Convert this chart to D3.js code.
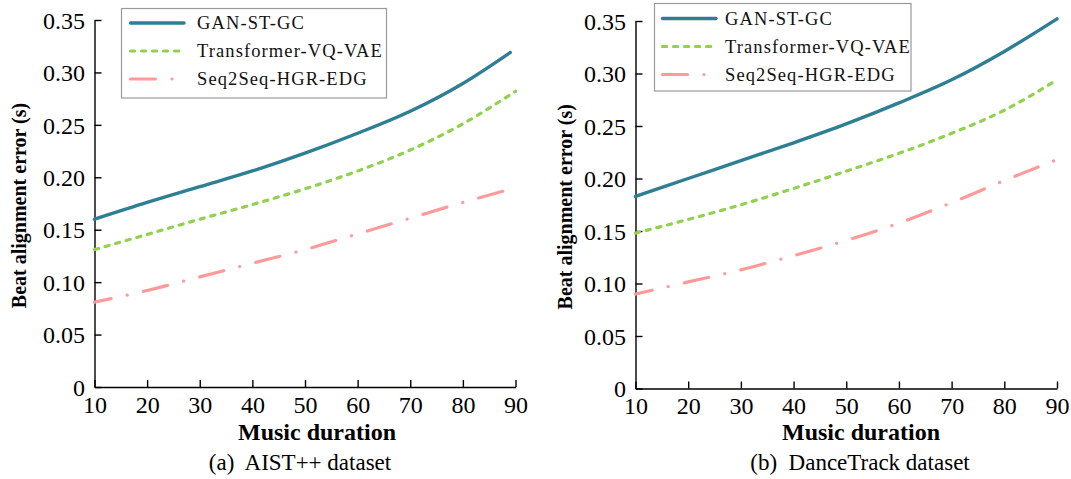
<!DOCTYPE html>
<html>
<head>
<meta charset="utf-8">
<script src="https://cdn.jsdelivr.net/npm/d3@7"></script>
<style>
  html, body { margin: 0; padding: 0; background: #fff; }
  svg { display: block; }
  svg text { font-family: "Liberation Serif", "Times New Roman", Times, serif; }
</style>
</head>
<body>
<svg id="fig" width="1071" height="479"></svg>
<script>
// Music duration (x) and beat alignment error (s) per method
const durations = [10, 20, 30, 40, 50, 60, 70, 80, 90];
const aistGanDurations = [10, 20, 30, 40, 50, 60, 70, 80, 89];

const aistGan         = [0.160, 0.176, 0.191, 0.206, 0.223, 0.242, 0.263, 0.2895, 0.319];
const aistTransformer = [0.131, 0.1455, 0.160, 0.174, 0.189, 0.206, 0.226, 0.251, 0.282];
const aistSeq2Seq     = [0.081, 0.092, 0.105, 0.118, 0.131, 0.146, 0.161, 0.176, 0.190];

const danceGan         = [0.183, 0.200, 0.217, 0.234, 0.252, 0.272, 0.294, 0.321, 0.352];
const danceTransformer = [0.148, 0.161, 0.175, 0.1905, 0.207, 0.224, 0.243, 0.265, 0.294];
const danceSeq2Seq     = [0.090, 0.1015, 0.113, 0.1265, 0.141, 0.1575, 0.177, 0.198, 0.218];

const seriesNames = ["GAN-ST-GC", "Transformer-VQ-VAE", "Seq2Seq-HGR-EDG"];
const xTicks = [10, 20, 30, 40, 50, 60, 70, 80, 90];
const yTicks = [0, 0.05, 0.10, 0.15, 0.20, 0.25, 0.30, 0.35];
const captions = ["(a)\u00a0 AIST++ dataset", "(b)\u00a0 DanceTrack dataset"];

// line styles per method
const styles = [
  { color: "#2e7f93", width: 3.4, dash: null, cap: "round" },
  { color: "#92d050", width: 3.2, dash: "4.2,6.8", cap: "round" },
  { color: "#ff9a9a", width: 3.2, dash: "25,16.5,0.01,16.5", cap: "round", offset: 8 }
];

const panels = [
  {
    series: [
      { xs: aistGanDurations, ys: aistGan },
      { xs: durations, ys: aistTransformer },
      { xs: durations, ys: aistSeq2Seq }
    ],
    x0: 94.5, x1: 515.5, yb: 387, yt: 20,
    legend: { x: 121.5, y: 8.5, w: 265, h: 89.5, rows: [23, 51, 79], lx0: 130.5, lx1: 184, tx: 197 },
    ylabelX: 26, titleX: 317, capX: 300
  },
  {
    series: [
      { xs: durations, ys: danceGan },
      { xs: durations, ys: danceTransformer },
      { xs: durations, ys: danceSeq2Seq }
    ],
    x0: 635.5, x1: 1057, yb: 388.5, yt: 21,
    legend: { x: 654.5, y: 3.5, w: 256.5, h: 87.5, rows: [18.5, 46.5, 74.5], lx0: 662.5, lx1: 716, tx: 725 },
    ylabelX: 572, titleX: 861, capX: 860
  }
];

const svg = d3.select("#fig");
svg.append("rect").attr("width", 1071).attr("height", 479).attr("fill", "#fff");

panels.forEach((p, pi) => {
  const x = d3.scaleLinear().domain([10, 90]).range([p.x0, p.x1]);
  const y = d3.scaleLinear().domain([0, 0.35]).range([p.yb, p.yt]);
  const g = svg.append("g");

  // axes with inward ticks
  const xAxis = d3.axisBottom(x).tickValues(xTicks).tickSize(-7).tickSizeOuter(0).tickPadding(10)
    .tickFormat(d3.format("d"));
  const yAxis = d3.axisLeft(y).tickValues(yTicks).tickSize(-7).tickSizeOuter(0).tickPadding(10)
    .tickFormat(d => d === 0 ? "0" : d3.format(".2f")(d));

  const gx = g.append("g").attr("transform", `translate(0,${p.yb})`).call(xAxis);
  const gy = g.append("g").attr("transform", `translate(${p.x0},0)`).call(yAxis);
  [gx, gy].forEach(a => {
    a.attr("font-family", null).attr("font-size", null);
    a.selectAll("path").attr("stroke", "#000").attr("stroke-width", 1.4);
    a.selectAll("line").attr("stroke", "#000").attr("stroke-width", 1.4);
    a.selectAll("text").attr("fill", "#000").style("font-size", "24px");
  });
  gx.selectAll("text").attr("dy", "0.72em").attr("y", 8.5);
  gy.selectAll("text").attr("dy", "0.34em").attr("x", -9.5);

  // series lines
  const line = d3.line().x(d => x(d[0])).y(d => y(d[1])).curve(d3.curveMonotoneX);
  p.series.forEach((s, si) => {
    const st = styles[si];
    const pts = s.xs.map((v, i) => [v, s.ys[i]]);
    g.append("path").datum(pts)
      .attr("d", line)
      .attr("fill", "none")
      .attr("stroke", st.color)
      .attr("stroke-width", st.width)
      .attr("stroke-linecap", st.cap)
      .attr("stroke-dasharray", st.dash)
      .attr("stroke-dashoffset", st.offset || 0);
  });

  // legend
  const L = p.legend;
  g.append("rect").attr("x", L.x).attr("y", L.y).attr("width", L.w).attr("height", L.h)
    .attr("fill", "#fff").attr("stroke", "#9a9a9a").attr("stroke-width", 1.2);
  seriesNames.forEach((name, si) => {
    const st = styles[si];
    g.append("line").attr("x1", L.lx0).attr("x2", L.lx1).attr("y1", L.rows[si]).attr("y2", L.rows[si])
      .attr("stroke", st.color).attr("stroke-width", st.width)
      .attr("stroke-linecap", st.cap)
      .attr("stroke-dasharray", st.dash);
    g.append("text").attr("x", L.tx).attr("y", L.rows[si]).attr("dy", "0.34em")
      .style("font-size", "18.5px").style("letter-spacing", "1.1px").attr("fill", "#111")
      .text(name);
  });

  // axis titles and caption
  g.append("text")
    .attr("transform", `translate(${p.ylabelX},${(p.yb + p.yt) / 2 + 2}) rotate(-90)`)
    .attr("text-anchor", "middle").attr("font-weight", "bold").style("font-size", "20px")
    .text("Beat alignment error (s)");
  g.append("text").attr("x", p.titleX).attr("y", 440).attr("text-anchor", "middle")
    .attr("font-weight", "bold").style("font-size", "24px").text("Music duration");
  g.append("text").attr("x", p.capX).attr("y", 470).attr("text-anchor", "middle")
    .style("font-size", "23px").text(captions[pi]);
});
</script>
</body>
</html>
